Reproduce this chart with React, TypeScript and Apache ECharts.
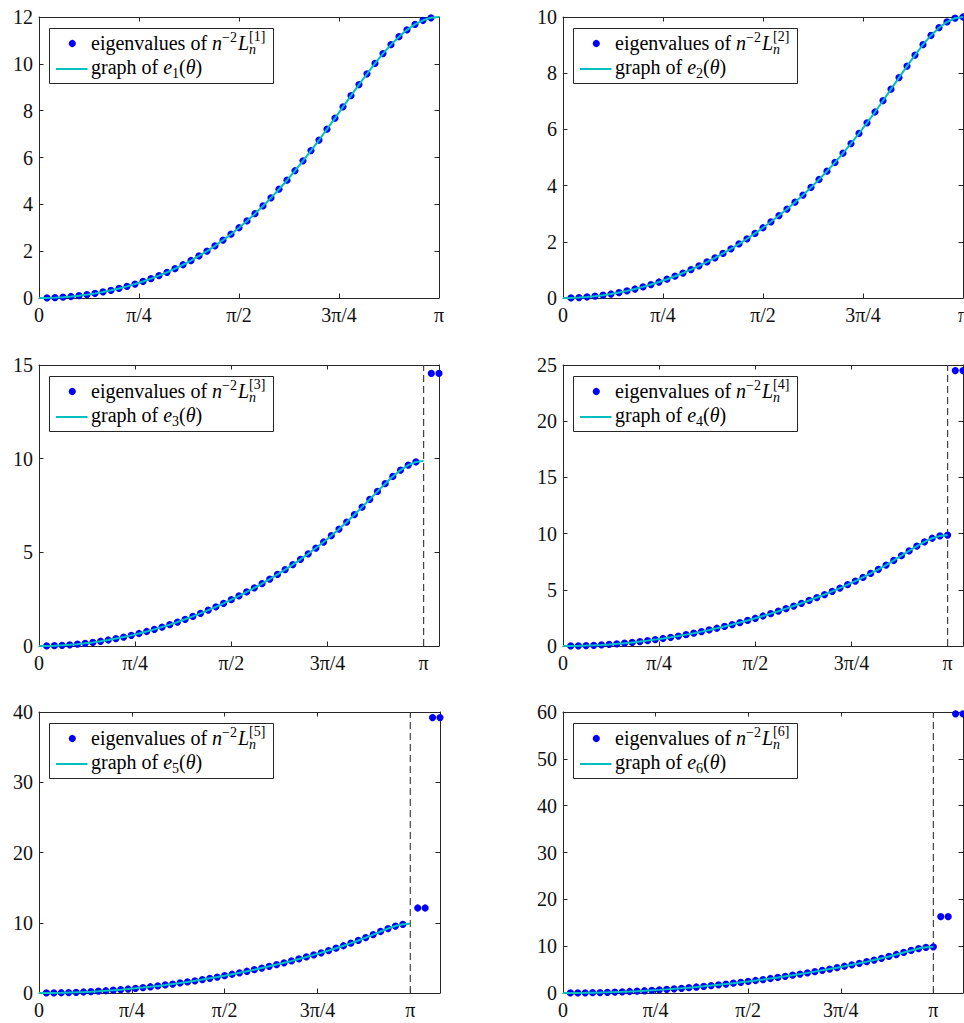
import React, { useEffect, useRef } from "react";
import * as echarts from "echarts";

const PI = Math.PI;
// grid spacing of the sample points: theta_j = j * pi / 50
const STEP = PI / 50;

const xTickLabels = ["0", "π/4", "π/2", "3π/4", "π"];

// symbol graphs e_p(theta) read at theta_j, j = 0..50 (eigenvalues sit on them)
const symbol1 = [0, 0.004, 0.016, 0.036, 0.064, 0.1, 0.144, 0.197, 0.258, 0.328, 0.408, 0.497, 0.596, 0.705, 0.825, 0.956, 1.098, 1.253, 1.42, 1.601, 1.796, 2.005, 2.229, 2.469, 2.726, 3.0, 3.292, 3.602, 3.93, 4.278, 4.645, 5.03, 5.434, 5.856, 6.294, 6.746, 7.21, 7.684, 8.162, 8.64, 9.114, 9.575, 10.019, 10.436, 10.819, 11.16, 11.452, 11.687, 11.859, 11.965, 12.0];
const symbol2 = [0, 0.004, 0.016, 0.036, 0.063, 0.099, 0.142, 0.193, 0.253, 0.32, 0.395, 0.478, 0.569, 0.668, 0.775, 0.889, 1.012, 1.144, 1.283, 1.43, 1.587, 1.751, 1.925, 2.107, 2.299, 2.5, 2.711, 2.933, 3.165, 3.409, 3.665, 3.934, 4.217, 4.513, 4.825, 5.152, 5.495, 5.855, 6.23, 6.619, 7.021, 7.431, 7.844, 8.252, 8.646, 9.014, 9.343, 9.618, 9.826, 9.956, 10.0];
const symbol3 = [0, 0.004, 0.016, 0.036, 0.063, 0.099, 0.142, 0.193, 0.253, 0.32, 0.395, 0.478, 0.568, 0.667, 0.774, 0.888, 1.011, 1.141, 1.279, 1.425, 1.58, 1.742, 1.912, 2.09, 2.276, 2.471, 2.673, 2.885, 3.105, 3.333, 3.572, 3.82, 4.078, 4.347, 4.628, 4.921, 5.228, 5.551, 5.889, 6.244, 6.618, 7.008, 7.414, 7.832, 8.252, 8.664, 9.05, 9.388, 9.653, 9.824, 9.882];
const symbol4 = [0, 0.004, 0.016, 0.036, 0.063, 0.099, 0.142, 0.193, 0.253, 0.32, 0.395, 0.478, 0.568, 0.667, 0.774, 0.888, 1.011, 1.141, 1.279, 1.425, 1.579, 1.741, 1.911, 2.089, 2.274, 2.468, 2.669, 2.879, 3.096, 3.322, 3.556, 3.799, 4.05, 4.311, 4.58, 4.86, 5.151, 5.455, 5.771, 6.103, 6.452, 6.819, 7.205, 7.612, 8.034, 8.463, 8.883, 9.27, 9.586, 9.797, 9.871];
const symbol5 = [0, 0.004, 0.016, 0.036, 0.063, 0.099, 0.142, 0.193, 0.253, 0.32, 0.395, 0.478, 0.568, 0.667, 0.774, 0.888, 1.011, 1.141, 1.279, 1.425, 1.579, 1.741, 1.911, 2.088, 2.274, 2.467, 2.669, 2.878, 3.095, 3.32, 3.553, 3.794, 4.043, 4.302, 4.568, 4.843, 5.127, 5.422, 5.727, 6.045, 6.377, 6.725, 7.093, 7.481, 7.892, 8.32, 8.756, 9.174, 9.533, 9.781, 9.87];
const symbol6 = [0, 0.004, 0.016, 0.036, 0.063, 0.099, 0.142, 0.193, 0.253, 0.32, 0.395, 0.478, 0.568, 0.667, 0.774, 0.888, 1.011, 1.141, 1.279, 1.425, 1.579, 1.741, 1.911, 2.088, 2.274, 2.467, 2.669, 2.878, 3.095, 3.32, 3.553, 3.794, 4.043, 4.299, 4.564, 4.836, 5.12, 5.411, 5.711, 6.022, 6.344, 6.68, 7.032, 7.404, 7.8, 8.219, 8.656, 9.092, 9.484, 9.766, 9.87];

// outlier eigenvalues (plotted just beyond pi)
const outliers3 = [14.55, 14.55];
const outliers4 = [24.5, 24.5];
const outliers5 = [12.1, 12.1, 39.2, 39.2];
const outliers6 = [16.3, 16.3, 59.6, 59.6];

// how many regular eigenvalues each panel has (theta_1..theta_n)
const regularCount = [49, 50, 49, 50, 49, 50];
const yMaxes = [12, 10, 15, 25, 40, 60];
const yIntervals = [2, 2, 5, 5, 10, 10];
const xMaxIndex = [50, 50, 52, 52, 54, 54];
const dashedAt = PI;

const FONT_FAMILY = '"Liberation Serif", "Times New Roman", serif';
const AXIS_COLOR = "#262626";
const TEXT_COLOR = "#111111";
const DOT_COLOR = "#0000ff";
const CURVE_COLOR = "#00bfbf";

const gridPos = [
  { left: 39, top: 17, width: 400 },
  { left: 563, top: 17, width: 400 },
  { left: 39, top: 365, width: 400 },
  { left: 563, top: 365, width: 400 },
  { left: 39, top: 712, width: 401 },
  { left: 563, top: 712, width: 400 },
];
const GRID_H = 281;

type Piece = { t: string; size: number; italic?: boolean; dy?: number; hold?: boolean; gap?: number };

export default function App() {
  const ref = useRef<HTMLDivElement>(null);

  useEffect(() => {
    document.body.style.margin = "0";
    document.body.style.overflow = "hidden";
    const chart = echarts.init(ref.current!, null, { renderer: "svg", width: 964, height: 1023 });

    const canvas = document.createElement("canvas");
    const ctx = canvas.getContext("2d")!;
    const fontStr = (size: number, italic?: boolean) => `${italic ? "italic " : ""}${size}px ${FONT_FAMILY}`;
    const measure = (t: string, size: number, italic?: boolean) => {
      ctx.font = fontStr(size, italic);
      return ctx.measureText(t).width;
    };

    const layoutRow = (pieces: Piece[], x0: number, baseline: number) => {
      const els: any[] = [];
      let x = x0;
      let holdW = 0;
      for (const p of pieces) {
        x += p.gap || 0;
        const w = measure(p.t, p.size, p.italic);
        els.push({
          type: "text",
          x,
          y: baseline + (p.dy || 0) - 0.34 * p.size,
          z: 102,
          style: {
            text: p.t,
            font: fontStr(p.size, p.italic),
            fill: "#000",
            textAlign: "left",
            textVerticalAlign: "middle",
            align: "left",
            verticalAlign: "middle",
          },
        });
        if (p.hold) {
          holdW = w;
        } else {
          x += Math.max(w, holdW);
          holdW = 0;
        }
      }
      return els;
    };

    const graphics: any[] = [];
    gridPos.forEach((g, i) => {
      const p = i + 1;
      const gx = g.left;
      const gy = g.top;
      graphics.push({
        type: "rect",
        z: 100,
        shape: { x: gx + 10.5, y: gy + 11.5, width: 224, height: 55 },
        style: { fill: "#ffffff", stroke: AXIS_COLOR, lineWidth: 1 },
      });
      graphics.push({
        type: "circle",
        z: 101,
        shape: { cx: gx + 33.3, cy: gy + 26.5, r: 3.6 },
        style: { fill: DOT_COLOR },
      });
      graphics.push({
        type: "line",
        z: 101,
        shape: { x1: gx + 17, y1: gy + 52, x2: gx + 48.5, y2: gy + 52 },
        style: { stroke: CURVE_COLOR, lineWidth: 2 },
      });
      graphics.push(
        ...layoutRow(
          [
            { t: "eigenvalues of ", size: 20 },
            { t: "n", size: 20, italic: true },
            { t: "−2", size: 14, dy: -8 },
            { t: "L", size: 20, italic: true, gap: 1 },
            { t: `[${p}]`, size: 14, dy: -9, hold: true },
            { t: "n", size: 14, italic: true, dy: 4 },
          ],
          gx + 52,
          gy + 33
        )
      );
      graphics.push(
        ...layoutRow(
          [
            { t: "graph of ", size: 20 },
            { t: "e", size: 20, italic: true },
            { t: String(p), size: 14, dy: 4 },
            { t: "(", size: 20 },
            { t: "θ", size: 20, italic: true },
            { t: ")", size: 20 },
          ],
          gx + 52,
          gy + 57
        )
      );
    });

    const symbols = [symbol1, symbol2, symbol3, symbol4, symbol5, symbol6];
    const outliers = [[], [], outliers3, outliers4, outliers5, outliers6];

    const grids: any[] = [];
    const xAxes: any[] = [];
    const yAxes: any[] = [];
    const series: any[] = [];

    const xFormatter = (v: number) => {
      const k = Math.round(v / (PI / 4));
      if (Math.abs(v - (k * PI) / 4) < 1e-6 && k >= 0 && k < xTickLabels.length) return xTickLabels[k];
      return "";
    };

    const lineStyle = { color: AXIS_COLOR, width: 1 };

    gridPos.forEach((g, i) => {
      grids.push({ left: g.left, top: g.top, width: g.width, height: GRID_H, containLabel: false, outerBoundsMode: "none" });
      const xMax = xMaxIndex[i] * STEP;
      const baseX = {
        type: "value",
        gridIndex: i,
        min: 0,
        max: xMax,
        interval: PI / 4,
        splitLine: { show: false },
        axisLine: { show: true, onZero: false, lineStyle },
        axisTick: { show: true, inside: true, length: 4.5, lineStyle },
      };
      xAxes.push({
        ...baseX,
        position: "bottom",
        axisLabel: { show: true, formatter: xFormatter, fontFamily: FONT_FAMILY, fontSize: 20, color: TEXT_COLOR, margin: 7 },
      });
      xAxes.push({ ...baseX, position: "top", axisLabel: { show: false } });
      const baseY = {
        type: "value",
        gridIndex: i,
        min: 0,
        max: yMaxes[i],
        interval: yIntervals[i],
        splitLine: { show: false },
        axisLine: { show: true, onZero: false, lineStyle },
        axisTick: { show: true, inside: true, length: 4.5, lineStyle },
      };
      yAxes.push({
        ...baseY,
        position: "left",
        axisLabel: { show: true, fontFamily: FONT_FAMILY, fontSize: 20, color: TEXT_COLOR, margin: 6 },
      });
      yAxes.push({ ...baseY, position: "right", axisLabel: { show: false } });

      const sym = symbols[i];
      const dots: number[][] = [];
      for (let j = 1; j <= regularCount[i]; j++) dots.push([j * STEP, sym[j]]);
      outliers[i].forEach((v: number, k: number) => dots.push([(51 + k) * STEP, v]));
      const curve = sym.map((v, j) => [j * STEP, v]);

      if (i >= 2) {
        series.push({
          type: "line",
          xAxisIndex: 2 * i,
          yAxisIndex: 2 * i,
          data: [
            [dashedAt, 0],
            [dashedAt, yMaxes[i]],
          ],
          showSymbol: false,
          symbol: "none",
          silent: true,
          z: 1,
          lineStyle: { color: "#444444", width: 1.2, type: [7, 4] },
        });
      }
      series.push({
        type: "scatter",
        xAxisIndex: 2 * i,
        yAxisIndex: 2 * i,
        data: dots,
        symbol: "circle",
        symbolSize: 7.2,
        clip: false,
        silent: true,
        z: 2,
        itemStyle: { color: DOT_COLOR, opacity: 1 },
      });
      series.push({
        type: "line",
        xAxisIndex: 2 * i,
        yAxisIndex: 2 * i,
        data: curve,
        showSymbol: false,
        symbol: "none",
        silent: true,
        z: 3,
        lineStyle: { color: CURVE_COLOR, width: 2 },
      });
    });

    chart.setOption({
      animation: false,
      backgroundColor: "#ffffff",
      grid: grids,
      xAxis: xAxes,
      yAxis: yAxes,
      series,
      graphic: graphics,
    });

    return () => chart.dispose();
  }, []);

  return <div ref={ref} style={{ width: 964, height: 1023 }} />;
}
